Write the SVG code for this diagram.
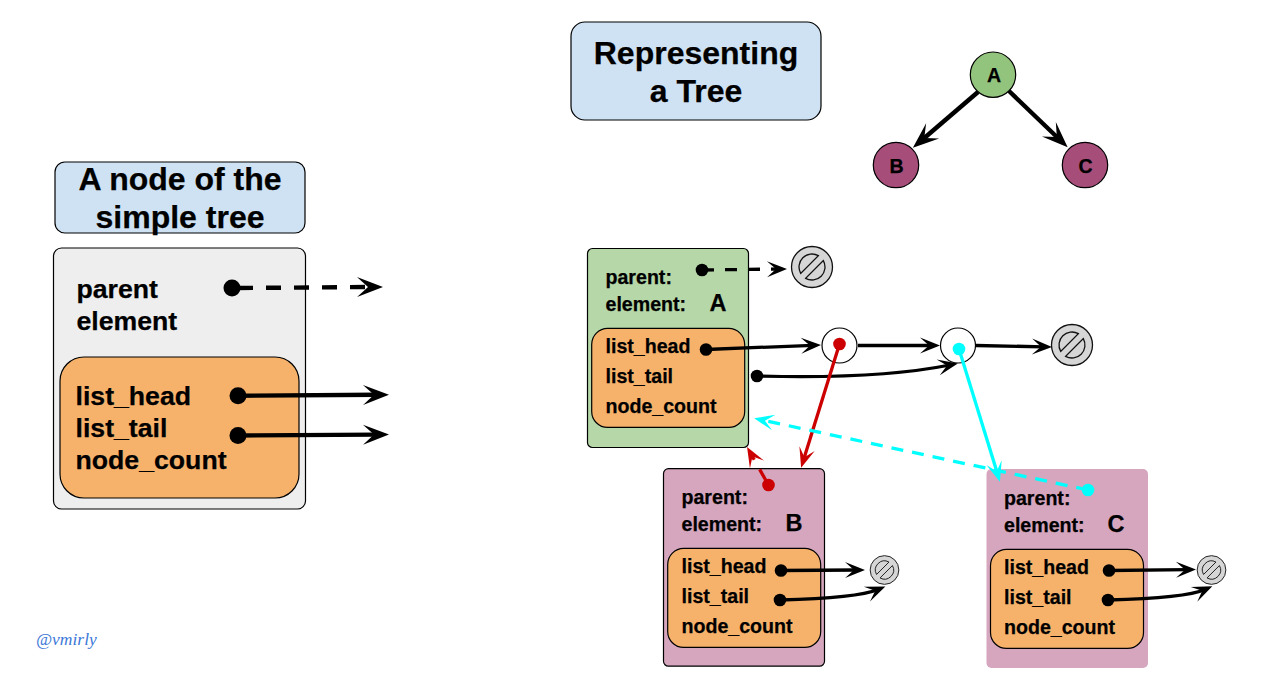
<svg xmlns="http://www.w3.org/2000/svg" width="1274" height="681" viewBox="0 0 1274 681">
<style>
text{font-family:"Liberation Sans",Arial,sans-serif;font-weight:bold;fill:#000;stroke:#000;stroke-width:.25}
.t{font-size:32px;text-anchor:middle}
.l{font-size:26.67px}
.s{font-size:19.6px}
.e{font-size:23.5px}
.n{font-size:19.56px;text-anchor:middle}
.b{stroke:#000;stroke-width:1.2}
.blue{fill:#cfe2f3}
.or{fill:#f6b26b}
.nul{fill:#d6d6d6;stroke:#111;stroke-width:1.3}
.c{fill:none;stroke:#000;stroke-width:3.3}
.k4{stroke-width:4.4}
.mk{marker-end:url(#mb)}
.mm{marker-end:url(#mm)}
.mr{stroke:#cc0000;marker-end:url(#mr)}
.mc{stroke:#00ffff;marker-end:url(#mc)}
</style>
<defs>
<marker id="mb" markerUnits="userSpaceOnUse" viewBox="-28 -11 30 22" refX="-12" refY="0" markerWidth="30" markerHeight="22" orient="auto"><path d="M0,0L-26,-10L-15,0L-26,10Z" fill="#000"/></marker>
<marker id="mm" markerUnits="userSpaceOnUse" viewBox="-22 -9 24 18" refX="-8" refY="0" markerWidth="24" markerHeight="18" orient="auto"><path d="M0,0L-20,-8L-11,0L-20,8Z" fill="#000"/></marker>
<marker id="mr" markerUnits="userSpaceOnUse" viewBox="-22 -9 24 18" refX="-8" refY="0" markerWidth="24" markerHeight="18" orient="auto"><path d="M0,0L-20,-8L-11,0L-20,8Z" fill="#cc0000"/></marker>
<marker id="mc" markerUnits="userSpaceOnUse" viewBox="-22 -9 24 18" refX="-8" refY="0" markerWidth="24" markerHeight="18" orient="auto"><path d="M0,0L-20,-8L-11,0L-20,8Z" fill="#00ffff"/></marker>
<g id="nullsym"><circle r="20.5" class="nul"/><path d="M11.32,-6.38A13,13 0 0 1 -6.38,11.32ZM-11.32,6.38A13,13 0 0 1 6.38,-11.32Z" fill="#d6d6d6" stroke="#111" stroke-width="1.3"/></g>
</defs>

<g id="title-tree"><rect x="571" y="22" width="250" height="98" rx="14" class="blue b"/><text class="t" x="696" y="64">Representing</text><text class="t" x="696" y="102">a Tree</text></g>
<g id="title-node"><rect x="55" y="162" width="250" height="71" rx="10" class="blue b"/><text class="t" x="180" y="190">A node of the</text><text class="t" x="180" y="228">simple tree</text></g>

<g id="node-legend"><rect x="53.5" y="248" width="252" height="261" rx="8" fill="#eeeeee" class="b"/><rect x="60" y="357" width="239" height="141" rx="24" class="or b"/>
<text class="l" x="76.5" y="298">parent</text><text class="l" x="76.5" y="330">element</text><text class="l" x="75.5" y="405">list_head</text><text class="l" x="75.5" y="437">list_tail</text><text class="l" x="75.5" y="469">node_count</text></g>

<g id="tree-a"><circle cx="993" cy="74.7" r="22.7" fill="#93c47d" class="b"/><text class="n" x="994" y="82">A</text></g>
<g id="tree-b"><circle cx="896" cy="165" r="22.7" fill="#a64d79" class="b"/><text class="n" x="896.5" y="172.5">B</text></g>
<g id="tree-c"><circle cx="1085" cy="165" r="22.7" fill="#a64d79" class="b"/><text class="n" x="1085.5" y="172.5">C</text></g>

<g id="card-a"><rect x="587.5" y="248.5" width="161" height="199" rx="5" fill="#b6d7a8" class="b"/><rect x="591.7" y="328.4" width="153" height="99" rx="16" class="or b"/>
<text class="s" x="605.5" y="283.7">parent:</text><text class="s" x="605.5" y="311">element:</text><text class="e" x="709.5" y="311">A</text><text class="s" x="605.5" y="352.7">list_head</text><text class="s" x="605.5" y="382.7">list_tail</text><text class="s" x="605.5" y="413">node_count</text></g>
<g id="card-b"><rect x="663.5" y="468.7" width="161" height="197.5" rx="5" fill="#d5a6bd" class="b"/><rect x="667.7" y="548.4" width="153" height="99" rx="16" class="or b"/>
<text class="s" x="681.5" y="503.7">parent:</text><text class="s" x="681.5" y="531">element:</text><text class="e" x="785.5" y="531">B</text><text class="s" x="681.5" y="572.7">list_head</text><text class="s" x="681.5" y="602.7">list_tail</text><text class="s" x="681.5" y="633">node_count</text></g>
<g id="card-c"><rect x="986.5" y="469" width="161.5" height="199" rx="5" fill="#d5a6bd"/><rect x="990.5" y="549.4" width="153" height="99" rx="16" class="or b"/>
<text class="s" x="1004" y="504.7">parent:</text><text class="s" x="1004" y="532">element:</text><text class="e" x="1107.5" y="532">C</text><text class="s" x="1004" y="573.7">list_head</text><text class="s" x="1004" y="603.7">list_tail</text><text class="s" x="1004" y="634">node_count</text></g>

<g id="list-node-1"><circle cx="839.5" cy="345.5" r="17.5" fill="#fff" class="b"/></g>
<g id="list-node-2"><circle cx="958" cy="345.5" r="17.5" fill="#fff" class="b"/></g>
<g id="null-a-parent"><use href="#nullsym" x="812" y="267"/></g>
<g id="null-list"><use href="#nullsym" x="1072" y="345"/></g>
<g id="null-b"><use href="#nullsym" transform="translate(884.5 570) scale(.7)"/></g>
<g id="null-c"><use href="#nullsym" transform="translate(1211.5 570) scale(.7)"/></g>

<g id="connectors">
<path class="c k4 mk" d="M238,288L371,287" stroke-dasharray="15 13"/>
<circle cx="232" cy="288" r="8.5"/>
<path class="c k4 mk" d="M238,395.7L377,394.8"/><circle cx="238" cy="395.7" r="8.5"/>
<path class="c k4 mk" d="M238,435.5L377,434.6"/><circle cx="238" cy="435.5" r="8.5"/>
<path class="c k4 mk" d="M978,92L922,140"/>
<path class="c k4 mk" d="M1009,91L1059,139"/>
<path class="c mm" d="M702,270L779,269" stroke-dasharray="12 11"/><circle cx="702" cy="270" r="6.3"/>
<path class="c mm" d="M706,349.5L813,345.3"/><circle cx="706" cy="349.5" r="6.3"/>
<path class="c mm" d="M757,376C830,378 900,375 950,365"/><circle cx="757" cy="376" r="6.3"/>
<path class="c mm" d="M858,345.5L932,345.5"/>
<path class="c mm" d="M976,345.5L1044,346.8"/>
<path class="c mr" d="M839.5,344L803.5,460"/><circle cx="839.5" cy="344" r="6.3" fill="#cc0000"/>
<path class="c mr" d="M768.5,485L751,454" stroke-dasharray="18 11"/><circle cx="768.5" cy="485" r="6.3" fill="#cc0000"/>
<path class="c mc" d="M959,349L997.6,474" /><circle cx="959" cy="349" r="6.3" fill="#00ffff"/>
<path class="c mc" d="M1088,490L762,420" stroke-dasharray="12 9"/><circle cx="1088" cy="490" r="6.3" fill="#00ffff"/>
<path class="c mm" d="M781,570.5L857,570"/><circle cx="781" cy="570.5" r="6.3"/>
<path class="c mm" d="M780,600C820,599 860,597 878,589.5"/><circle cx="780" cy="600" r="6.3"/>
<path class="c mm" d="M1109,570.5L1188,569.7"/><circle cx="1109" cy="570.5" r="6.3"/>
<path class="c mm" d="M1108,600C1148,599 1188,597 1205,589.5"/><circle cx="1108" cy="600" r="6.3"/>
</g>
<text id="credit" x="36" y="645" style="font-family:'Liberation Serif',serif;font-style:italic;font-weight:normal;font-size:17.5px;fill:#3c78d8;stroke:none">@vmirly</text>
</svg>
